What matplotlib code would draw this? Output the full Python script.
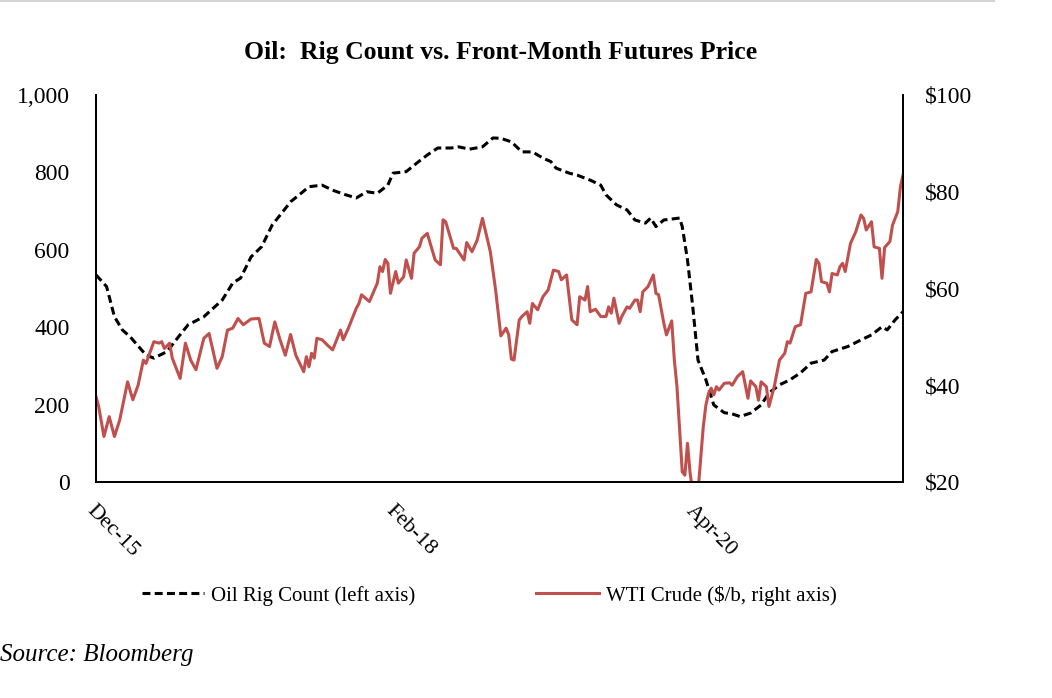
import numpy as np
import pandas as pd
import matplotlib as mpl
mpl.use('Agg')
import matplotlib.pyplot as plt
from matplotlib.lines import Line2D

# weekly series, week 0 = first Friday of Dec 2015
start_date = '2015-12-04'
n_weeks = 308
tick_weeks = [0, 114, 228]

# Baker Hughes oil rig count (left axis)
rig_week = [0, 4, 7, 10, 13, 19, 22, 27, 31, 35, 41, 48, 52, 55, 59, 63, 67, 71,
            74, 78, 81, 86, 90, 95, 99, 103, 107, 111, 113, 118, 122, 126, 130,
            135, 138, 142, 147, 151, 154, 158, 162, 166, 170, 173, 175, 180, 183,
            188, 192, 194, 198, 202, 205, 209, 211, 213, 216, 222, 223, 225, 227,
            229, 232, 235, 239, 242, 245, 249, 253, 256, 260, 264, 268, 272, 277,
            280, 286, 291, 295, 299, 301, 304, 307]
rig_count = [535, 505, 427, 393, 375, 328, 320, 337, 372, 406, 427, 470, 514, 527,
             582, 608, 664, 698, 724, 746, 763, 767, 754, 742, 734, 750, 746, 767,
             798, 802, 824, 845, 863, 863, 866, 860, 866, 889, 888, 879, 853, 853,
             837, 828, 811, 798, 793, 780, 767, 742, 716, 703, 677, 669, 682, 660,
             677, 682, 660, 574, 453, 315, 264, 199, 179, 176, 169, 178, 199, 230,
             251, 264, 282, 307, 315, 337, 350, 367, 380, 401, 393, 419, 440]

# WTI front-month price, $/b (right axis)
wti_week = [0, 1, 3, 5, 7, 9, 12, 14, 16, 18, 19, 22, 24, 25, 26, 28, 29, 32, 34,
            36, 38, 41, 43, 46, 48, 50, 52, 54, 56, 59, 62, 64, 66, 68, 70, 72, 74,
            76, 79, 80, 81, 82, 83, 84, 86, 88, 90, 92, 93, 94, 96, 99, 100, 101,
            104, 107, 108, 109, 110, 111, 112, 114, 115, 117, 118, 120, 121, 123,
            124, 126, 129, 131, 132, 133, 136, 137, 140, 141, 143, 145, 147, 150,
            152, 154, 156, 157, 158, 159, 161, 162, 164, 165, 166, 168, 170, 172,
            174, 176, 177, 179, 181, 183, 184, 186, 187, 188, 190, 192, 194, 195,
            196, 197, 199, 200, 202, 203, 205, 206, 207, 208, 210, 212, 213, 214,
            216, 217, 219, 220, 221, 223, 224, 225, 226, 227, 228, 229, 231, 232,
            233, 234, 235, 236, 237, 239, 241, 242, 244, 246, 248, 249, 251, 252,
            253, 255, 256, 258, 260, 262, 263, 264, 266, 268, 270, 272, 274, 275,
            276, 278, 279, 280, 282, 283, 284, 285, 287, 289, 291, 292, 293, 295,
            296, 298, 299, 300, 302, 303, 305, 306, 307]
wti_price = [37.6, 35.6, 29.4, 33.5, 29.4, 32.8, 40.7, 37.0, 40.0, 45.2, 44.5,
             49.0, 48.7, 49.0, 47.6, 48.7, 45.6, 41.4, 48.7, 45.2, 43.2, 49.7,
             50.7, 43.5, 45.9, 51.4, 51.8, 53.8, 52.5, 53.7, 53.8, 48.7, 48.0,
             53.1, 49.4, 46.2, 50.5, 46.2, 42.8, 45.9, 43.8, 46.6, 45.6, 49.7,
             49.4, 48.3, 47.3, 50.0, 51.4, 49.4, 51.8, 55.9, 56.9, 58.7, 57.3,
             61.1, 64.5, 63.5, 66.0, 65.2, 59.0, 63.5, 61.1, 62.4, 65.9, 62.1,
             67.3, 68.6, 70.4, 71.4, 65.9, 64.9, 74.2, 73.8, 68.3, 68.3, 65.9,
             69.5, 67.6, 70.0, 74.5, 67.6, 59.7, 50.2, 51.8, 50.4, 45.4, 45.2,
             53.5, 54.2, 55.2, 52.8, 56.9, 55.6, 58.3, 59.7, 63.8, 63.5, 61.8,
             62.8, 53.5, 52.5, 58.3, 57.6, 60.4, 55.2, 55.7, 54.2, 54.2, 56.2,
             54.9, 58.0, 52.8, 54.2, 56.2, 55.9, 57.6, 57.6, 55.2, 59.3, 60.4,
             62.8, 59.0, 58.7, 52.8, 50.4, 53.3, 45.2, 39.7, 22.1, 21.4, 28.0,
             21.8, 18.0, 16.9, 18.0, 31.4, 35.9, 38.3, 39.4, 38.0, 39.7, 39.0,
             40.4, 40.5, 40.0, 41.8, 42.8, 37.3, 40.9, 39.7, 36.9, 40.7, 39.7,
             35.6, 39.7, 45.2, 46.6, 49.0, 48.7, 52.1, 52.5, 59.0, 59.3, 66.0,
             65.2, 61.4, 61.1, 59.3, 63.1, 62.8, 64.5, 65.2, 63.5, 69.3, 71.7,
             75.2, 74.5, 72.1, 73.8, 68.6, 68.3, 62.1, 68.5, 69.7, 73.1, 75.9,
             81.0, 83.5]

tick_labels = [(pd.Timestamp(start_date) + pd.Timedelta(weeks=w)).strftime('%b-%y')
               for w in tick_weeks]

plt.rc('font', family='Liberation Serif')
ftsize = 17
red = '#C0504D'

fig = plt.figure(figsize=(10.52, 6.98), dpi=100)
ax = fig.add_axes([0.0913, 0.3095, 0.8584 - 0.0913, 0.8639 - 0.3095])
ax2 = ax.twinx()

ax.plot(rig_week, rig_count, color='black', linewidth=2.2,
        dashes=(2.6, 1.4), label='Oil Rig Count (left axis)')
ax2.plot(wti_week, wti_price, color=red, linewidth=2.2,
         label='WTI Crude ($/b, right axis)')

ax.set_xlim(0, n_weeks - 1)
ax.set_ylim(0, 1000)
ax2.set_ylim(20, 100)
ax.set_yticks(np.arange(0, 1001, 200))
ax.set_yticklabels(['{:,}'.format(v) for v in range(0, 1001, 200)])
ax2.set_yticks(np.arange(20, 101, 20))
ax2.set_yticklabels(['${}'.format(v) for v in range(20, 101, 20)])
ax.set_xticks(tick_weeks)
ax.set_xticklabels(tick_labels, rotation=-45, ha='left', va='top',
                   rotation_mode='anchor')

for a in (ax, ax2):
    a.spines['top'].set_visible(False)
    for s in ('left', 'right', 'bottom'):
        a.spines[s].set_linewidth(1.3)
    a.tick_params(length=0, labelsize=ftsize)
ax.tick_params(axis='x', labelsize=16, pad=14)
ax.tick_params(axis='y', pad=19)
ax2.tick_params(axis='y', pad=16)

fig.text(0.476, 0.925, 'Oil:  Rig Count vs. Front-Month Futures Price',
         ha='center', va='center', fontsize=18.5, fontweight='bold')

h1, l1 = ax.get_legend_handles_labels()
h2, l2 = ax2.get_legend_handles_labels()
fig.legend(h1 + h2, l1 + l2, loc='center', bbox_to_anchor=(0.465, 0.147),
           ncol=2, frameon=False, fontsize=15, handlelength=3.0,
           handletextpad=0.34, columnspacing=5.8)

fig.text(0.0, 0.062, 'Source: Bloomberg', ha='left', va='center',
         fontsize=18, style='italic')

# faint rule across the top of the page
fig.add_artist(Line2D([0, 0.945], [0.998, 0.998], color='#d4d4d4',
                      linewidth=1.5, transform=fig.transFigure))

plt.savefig('out.png', dpi=100)
